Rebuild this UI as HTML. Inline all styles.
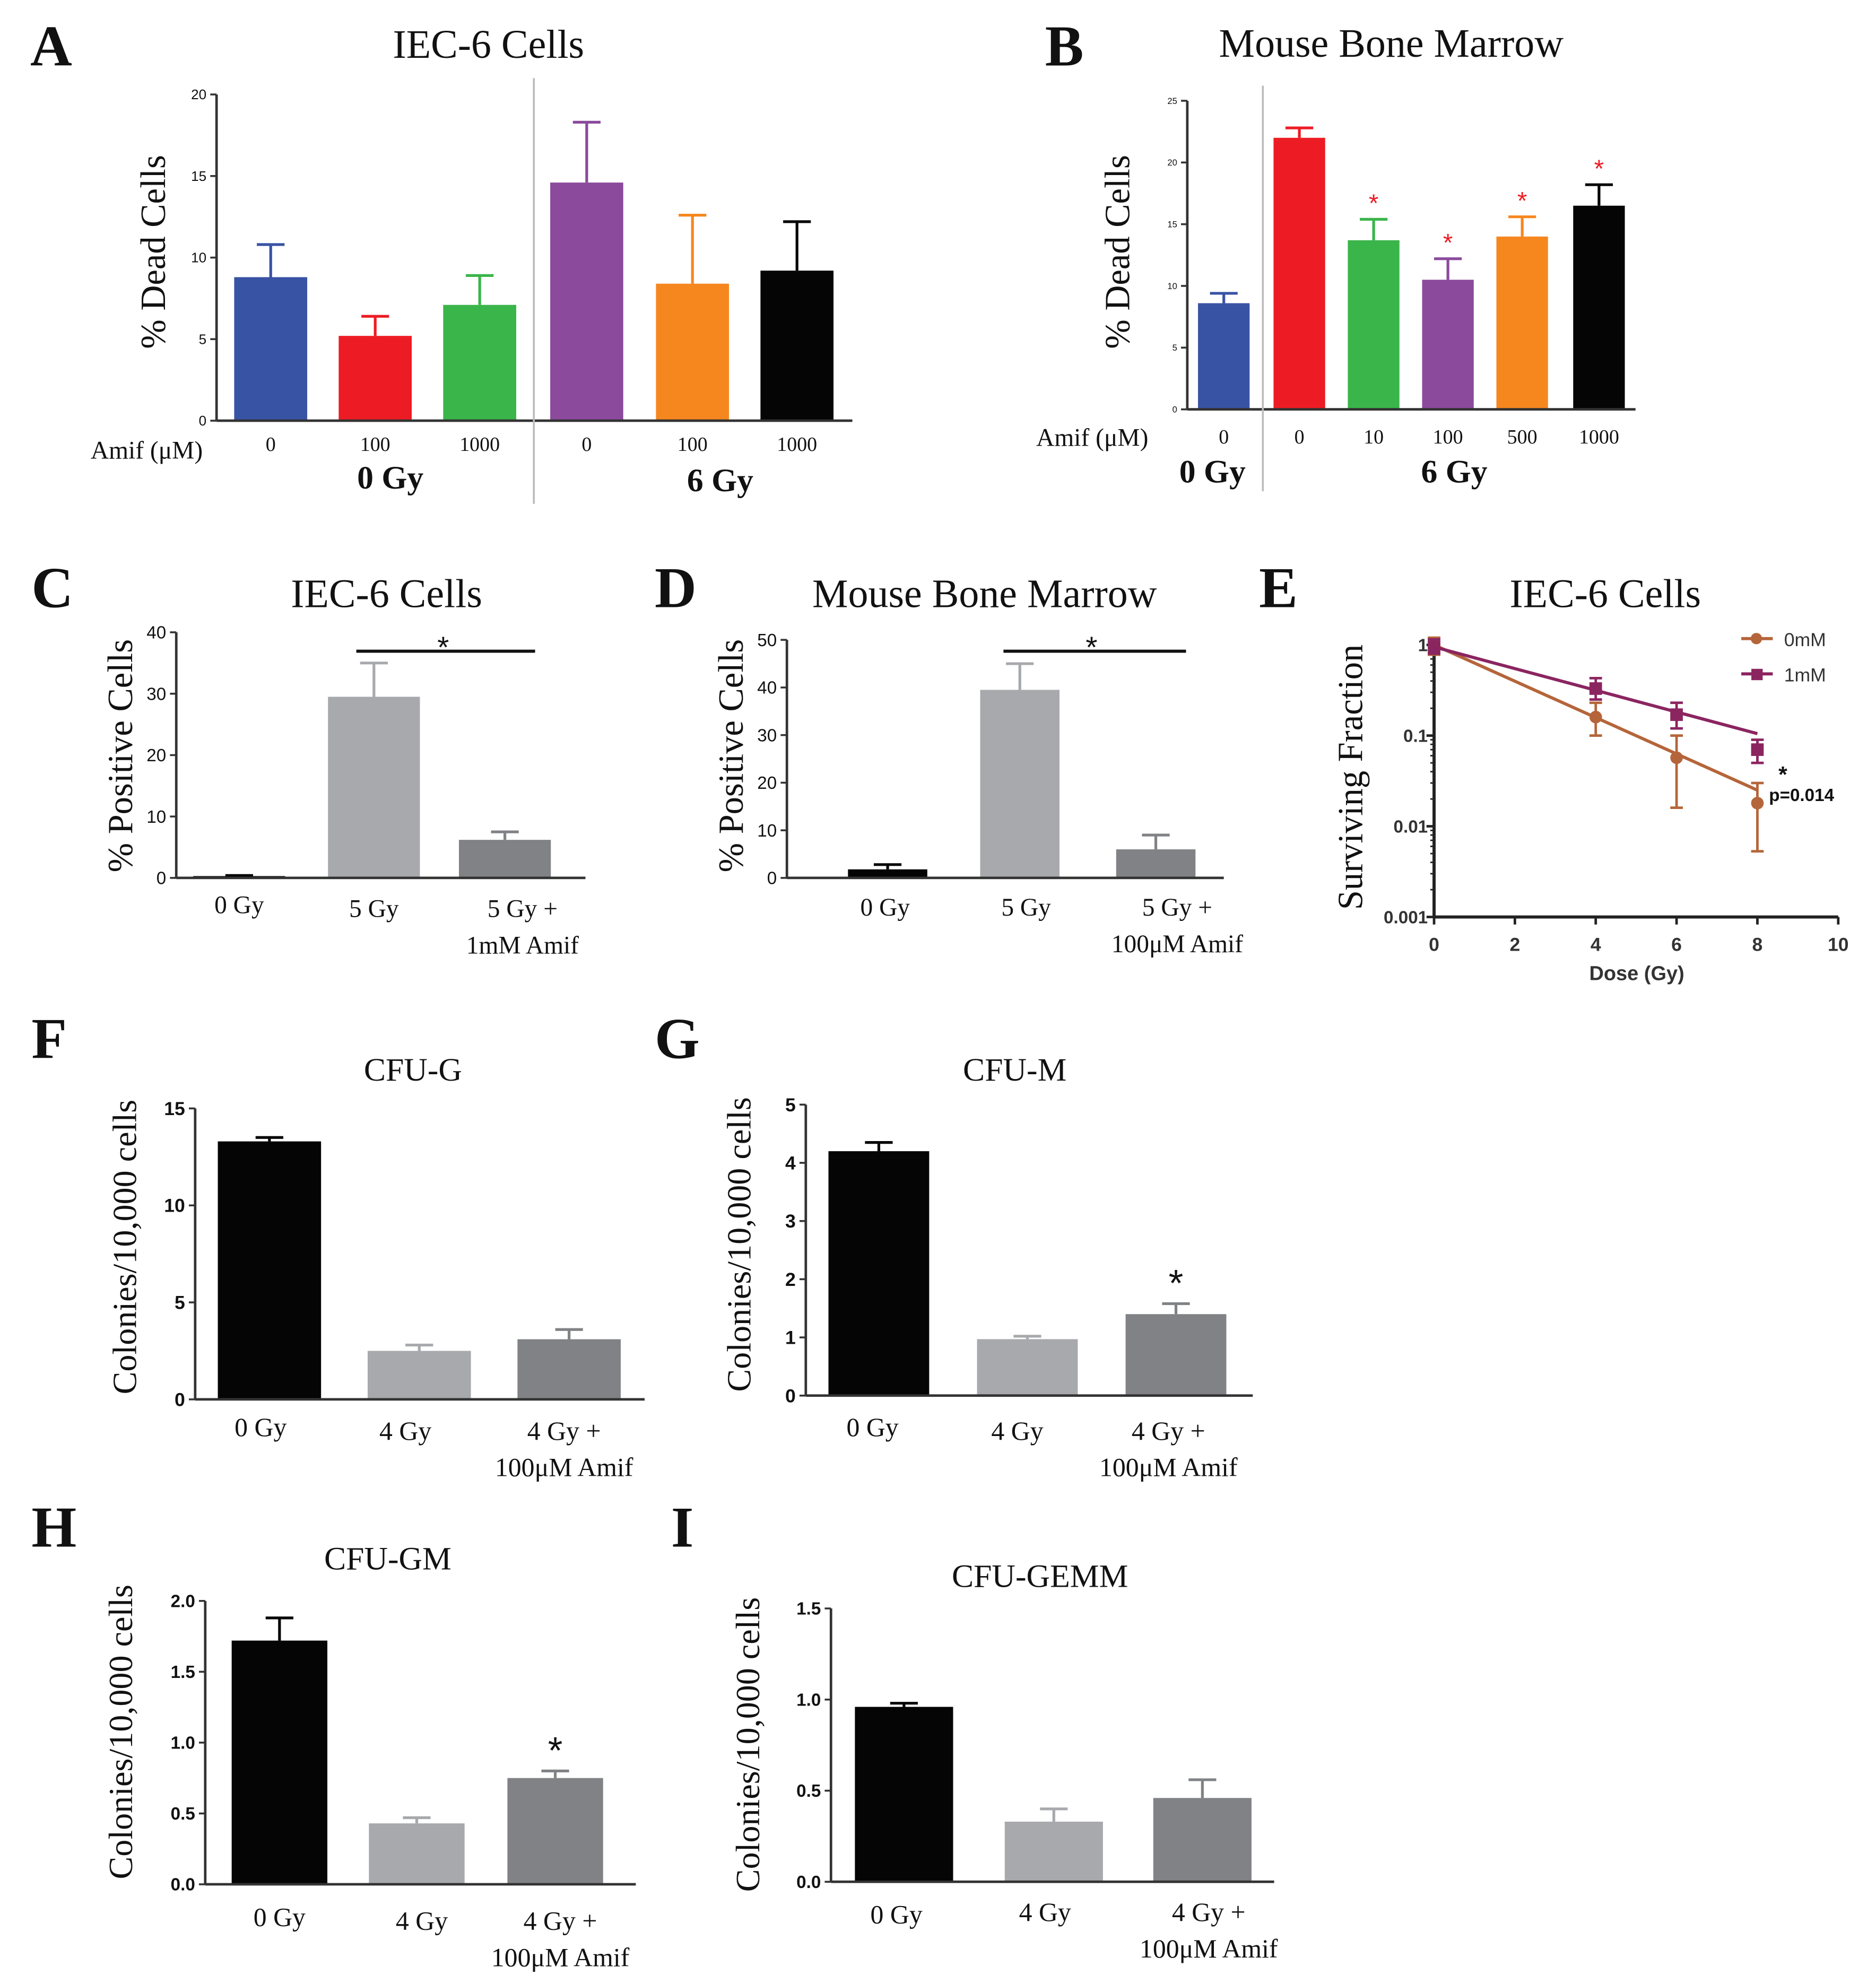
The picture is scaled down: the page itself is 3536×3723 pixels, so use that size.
<!DOCTYPE html>
<html><head><meta charset="utf-8"><style>
html,body{margin:0;padding:0;background:#fff}
svg{display:block}
.serif{font-family:"Liberation Serif",serif}
.sans{font-family:"Liberation Sans",sans-serif}
</style></head><body>
<svg id="fig" xmlns="http://www.w3.org/2000/svg" width="3536" height="3723" viewBox="0 0 1490 1568" preserveAspectRatio="none">
<rect width="1490" height="1568" fill="#fff"/>
</svg>
<script>
// ---- data ----
const aCategories = ["0","100","1000","0","100","1000"];
const aValues = [8.8,5.2,7.1,14.6,8.4,9.2];
const aErrTop = [10.8,6.4,8.9,18.3,12.6,12.2];
const aTicks = [0,5,10,15,20];
const bCategories = ["0","0","10","100","500","1000"];
const bValues = [8.6,22.0,13.7,10.5,14.0,16.5];
const bErrTop = [9.4,22.8,15.4,12.2,15.6,18.2];
const bStars = [false,false,true,true,true,true];
const bTicks = [0,5,10,15,20,25];
const cCategories = ["0 Gy","5 Gy","5 Gy +|1mM Amif"];
const cValues = [0.3,29.5,6.2];
const cErrTop = [0.4,35,7.5];
const cTicks = [0,10,20,30,40];
const dCategories = ["0 Gy","5 Gy","5 Gy +|100μM Amif"];
const dValues = [1.8,39.5,6.0];
const dErrTop = [2.8,45,9];
const dTicks = [0,10,20,30,40,50];
const eDose = [0,4,6,8];
const e0Values = [1.0,0.16,0.057,0.018];
const e0Lo = [0.78,0.10,0.016,0.0053];
const e0Hi = [1.2,0.23,0.10,0.030];
const e0FitEnd = 0.025;
const e1Values = [0.95,0.33,0.17,0.07];
const e1Lo = [0.8,0.25,0.12,0.05];
const e1Hi = [1.15,0.43,0.23,0.09];
const e1FitEnd = 0.105;
const eXTicks = [0,2,4,6,8,10];
const eYTicks = [0.001,0.01,0.1,1];
const eYTickLabels = ["0.001","0.01","0.1","1"];
const fCategories = ["0 Gy","4 Gy","4 Gy +|100μM Amif"];
const fValues = [13.3,2.5,3.1];
const fErrTop = [13.5,2.8,3.6];
const fTicks = [0,5,10,15];
const gValues = [4.2,0.97,1.4];
const gErrTop = [4.35,1.02,1.58];
const gTicks = [0,1,2,3,4,5];
const hValues = [1.72,0.43,0.75];
const hErrTop = [1.88,0.47,0.80];
const hTicks = [0,0.5,1.0,1.5,2.0];
const hTickLabels = ["0.0","0.5","1.0","1.5","2.0"];
const iValues = [0.96,0.33,0.46];
const iErrTop = [0.98,0.40,0.56];
const iTicks = [0,0.5,1.0,1.5];
const iTickLabels = ["0.0","0.5","1.0","1.5"];

const NS="http://www.w3.org/2000/svg";
const svg=document.getElementById('fig');
function mk(tag,attrs,parent,text){
  const e=document.createElementNS(NS,tag);
  for(const k in attrs)e.setAttribute(k,attrs[k]);
  if(text!==undefined)e.textContent=text;
  (parent||svg).appendChild(e);return e;
}
function txt(x,y,s,size,opts,parent,name){
  opts=opts||{};
  const t=mk('text',{x:x,y:y,'font-size':size,'text-anchor':opts.anchor||'middle','class':opts.cls||'serif','font-weight':opts.bold?'bold':'normal',fill:opts.fill||'#111'},parent,s);
  if(opts.rot)t.setAttribute('transform','rotate(-90 '+x+' '+y+')');
  
  
  return t;
}
function line(x1,y1,x2,y2,stroke,w,parent){return mk('line',{x1:x1,y1:y1,x2:x2,y2:y2,stroke:stroke||'#222','stroke-width':w||2},parent);}

function barPanel(cfg){
  const g=mk('g',{});
  
  
  const vmax=cfg.ticks[cfg.ticks.length-1];
  const ys=v=>cfg.y0-(v/vmax)*(cfg.y0-cfg.yTop);
  cfg.values.forEach((v,i)=>{
    const cx=cfg.xs[i], w=cfg.bw, col=cfg.colors[i];
    const yt=ys(cfg.err[i]);
    const el=line(cx,ys(v),cx,yt,col,2.2,g);
    
    
    const cap=line(cx-11,yt,cx+11,yt,col,2.2,g);
    
    
    const r=mk('rect',{x:cx-w/2,y:ys(v),width:w,height:cfg.y0-ys(v),fill:col},g);
    
    
    if(cfg.stars&&cfg.stars[i]) txt(cx,yt-6,'*',cfg.starSize||22,{cls:'sans',fill:cfg.starColor||'#111'},g,'significance-star');
  });
  const ya=line(cfg.x0,cfg.y0,cfg.x0,cfg.yTop,'#333',2,g);
  
  
  const xa=line(cfg.x0,cfg.y0,cfg.xEnd,cfg.y0,'#333',2,g);
  
  
  cfg.ticks.forEach((t,i)=>{
    const y=ys(t);
    line(cfg.x0-5,y,cfg.x0,y,'#333',1.5,g);
    txt(cfg.x0-8,y+cfg.tickSize*0.35,cfg.tickLabels?cfg.tickLabels[i]:String(t),cfg.tickSize,{anchor:'end',cls:'sans',bold:cfg.tickBold},g,'y-tick-label');
  });
  if(cfg.cats) cfg.cats.forEach((c,i)=>{
    const parts=c.split('|');
    parts.forEach((p,j)=>txt(cfg.catX?cfg.catX[i]:cfg.xs[i],cfg.catY+(i>0&&cfg.catDy?cfg.catDy:0)+j*29,p,cfg.catSize,{},g,'x-tick-label'));
  });
  if(cfg.ylabel) txt(cfg.ylx,cfg.yly,cfg.ylabel,cfg.ylSize||28,{rot:true},g,'y-axis-title');
  if(cfg.title) txt(cfg.tx,cfg.ty,cfg.title,cfg.tSize||30,{},g,'chart-title');
  txt(cfg.lx,cfg.ly,cfg.letter,46,{bold:true,anchor:'start'},g,'panel-letter');
  return {g,ys};
}
const BLUE='#3953a4',RED='#ed1c24',GREEN='#3ab54a',PURP='#8b4a9c',ORNG='#f6871f',BLK='#050505';
const LG='#a7a9ac',DG='#808285';

// A
barPanel({name:'panel-a',letter:'A',lx:24,ly:52,title:'IEC-6 Cells',tx:388,ty:46,tSize:32,
 x0:172,y0:334,yTop:75,xEnd:677,ticks:aTicks,tickSize:11,values:aValues,err:aErrTop,
 xs:[215,298,381,466,550,633],bw:58,colors:[BLUE,RED,GREEN,PURP,ORNG,BLK],
 cats:aCategories,catY:358,catSize:16,ylabel:'% Dead Cells',ylx:131,yly:200,ylSize:28});
line(424,62,424,400,'#bbb',1.5);
txt(72,364,'Amif (μM)',20,{anchor:'start'},null,'x-axis-title');
txt(310,388,'0 Gy',26,{bold:true},null,'group-label-0gy');
txt(572,390,'6 Gy',26,{bold:true},null,'group-label-6gy');

// B
barPanel({name:'panel-b',letter:'B',lx:830,ly:52,title:'Mouse Bone Marrow',tx:1105,ty:45,tSize:32,
 x0:943,y0:325,yTop:80,xEnd:1299,ticks:bTicks,tickSize:7,values:bValues,err:bErrTop,
 xs:[972,1032,1091,1150,1209,1270],bw:41,colors:[BLUE,RED,GREEN,PURP,ORNG,BLK],
 stars:bStars,starColor:RED,starSize:20,
 cats:bCategories,catY:352,catSize:16,ylabel:'% Dead Cells',ylx:897,yly:200,ylSize:28});
line(1003,68,1003,390,'#bbb',1.5);
txt(823,354,'Amif (μM)',20,{anchor:'start'},null,'x-axis-title');
txt(963,383,'0 Gy',26,{bold:true},null,'group-label-0gy');
txt(1155,383,'6 Gy',26,{bold:true},null,'group-label-6gy');

// C
barPanel({name:'panel-c',letter:'C',lx:25,ly:482,title:'IEC-6 Cells',tx:307,ty:482,tSize:32,
 x0:140,y0:697,yTop:502,xEnd:465,ticks:cTicks,tickSize:14,values:cValues,err:cErrTop,
 xs:[190,297,401],bw:73,colors:[BLK,LG,DG],
 cats:cCategories,catX:[190,297,415],catY:725,catDy:3,catSize:20,ylabel:'% Positive Cells',ylx:105,yly:600,ylSize:28});
line(283,517,425,517,'#111',2.5);
txt(352,522,'*',24,{cls:'sans'},null,'significance-star');

// D
barPanel({name:'panel-d',letter:'D',lx:520,ly:482,title:'Mouse Bone Marrow',tx:782,ty:482,tSize:32,
 x0:625,y0:697,yTop:508,xEnd:972,ticks:dTicks,tickSize:14,values:dValues,err:dErrTop,
 xs:[705,810,918],bw:63,colors:[BLK,LG,DG],
 cats:dCategories,catX:[703,815,935],catY:727,catDy:0,catSize:20,ylabel:'% Positive Cells',ylx:590,yly:600,ylSize:28});
line(797,517,942,517,'#111',2.5);
txt(867,522,'*',24,{cls:'sans'},null,'significance-star');

// E
(function(){
  const g=mk('g',{});
  
  
  const x0=1139,x1=1460,y0=728,yT=512;
  const xs=d=>x0+d/10*(x1-x0);
  const ys=v=>y0-(Math.log10(v)+3)/3*(y0-yT);
  const ya=line(x0,y0,x0,yT-6,'#222',2.5,g);
  
  
  const xa=line(x0,y0,x1,y0,'#222',2.5,g);
  
  
  eXTicks.forEach(t=>{line(xs(t),y0,xs(t),y0+6,'#222',2,g);txt(xs(t),y0+27,String(t),15,{cls:'sans',bold:true,fill:'#333'},g,'x-tick-label');});
  eYTicks.forEach((t,i)=>{line(x0-6,ys(t),x0,ys(t),'#222',2,g);txt(x0-5,ys(t)+5,eYTickLabels[i],14,{anchor:'end',cls:'sans',bold:true,fill:'#333'},g,'y-tick-label');});
  for(let dec=-3;dec<0;dec++)for(let m=2;m<10;m++){const y=ys(m*Math.pow(10,dec));line(x0-3,y,x0,y,'#222',1.2,g);}
  function series(vals,lo,hi,fitEnd,col,shape,name){
    const sg=mk('g',{},g);
    
    
    const fl=line(xs(eDose[0]),ys(vals[0]),xs(eDose[eDose.length-1]),ys(fitEnd),col,2.5,sg);
    
    
    eDose.forEach((d,i)=>{
      const x=xs(d);
      line(x,ys(lo[i]),x,ys(hi[i]),col,2,sg);
      line(x-5,ys(lo[i]),x+5,ys(lo[i]),col,2,sg);
      line(x-5,ys(hi[i]),x+5,ys(hi[i]),col,2,sg);
      const p=shape==='c'?mk('circle',{cx:x,cy:ys(vals[i]),r:5,fill:col},sg):mk('rect',{x:x-5,y:ys(vals[i])-5,width:10,height:10,fill:col},sg);
      
      
    });
  }
  series(e0Values,e0Lo,e0Hi,e0FitEnd,'#b5653a','c','series-0mm');
  series(e1Values,e1Lo,e1Hi,e1FitEnd,'#8b2560','s','series-1mm');
  line(1383,507,1408,507,'#b5653a',2.5,g);mk('circle',{cx:1395,cy:507,r:4.5,fill:'#b5653a'},g);
  txt(1417,513,'0mM',15,{anchor:'start',cls:'sans',fill:'#333'},g,'legend-entry-0mm');
  line(1383,535,1408,535,'#8b2560',2.5,g);mk('rect',{x:1391,y:531,width:9,height:9,fill:'#8b2560'},g);
  txt(1417,541,'1mM',15,{anchor:'start',cls:'sans',fill:'#333'},g,'legend-entry-1mm');
  txt(1416,621,'*',18,{cls:'sans',bold:true},g,'significance-star');
  txt(1405,636,'p=0.014',14,{anchor:'start',cls:'sans',bold:true},g,'p-value-label');
  txt(1300,778,'Dose (Gy)',16,{cls:'sans',bold:true,fill:'#333'},g,'x-axis-title');
  txt(1082,617,'Surviving Fraction',28,{rot:true},g,'y-axis-title');
  txt(1275,482,'IEC-6 Cells',32,{},g,'chart-title');
  txt(1000,482,'E',46,{bold:true,anchor:'start'},g,'panel-letter');
})();

// F
barPanel({name:'panel-f',letter:'F',lx:25,ly:840,title:'CFU-G',tx:328,ty:858,tSize:26,
 x0:155,y0:1111,yTop:880,xEnd:512,ticks:fTicks,tickSize:15,tickBold:true,values:fValues,err:fErrTop,
 xs:[214,333,452],bw:82,colors:[BLK,LG,DG],
 cats:fCategories,catX:[207,322,448],catY:1140,catDy:3,catSize:21,ylabel:'Colonies/10,000 cells',ylx:108,yly:990,ylSize:27});

// G
barPanel({name:'panel-g',letter:'G',lx:520,ly:840,title:'CFU-M',tx:806,ty:858,tSize:26,
 x0:640,y0:1108,yTop:877,xEnd:995,ticks:gTicks,tickSize:15,tickBold:true,values:gValues,err:gErrTop,
 xs:[698,816,934],bw:80,colors:[BLK,LG,DG],stars:[false,false,true],starSize:30,
 cats:fCategories,catX:[693,808,928],catY:1140,catDy:3,catSize:21,ylabel:'Colonies/10,000 cells',ylx:596,yly:988,ylSize:27});

// H
barPanel({name:'panel-h',letter:'H',lx:25,ly:1228,title:'CFU-GM',tx:308,ty:1246,tSize:26,
 x0:163,y0:1496,yTop:1271,xEnd:505,ticks:hTicks,tickLabels:hTickLabels,tickSize:14,tickBold:true,values:hValues,err:hErrTop,
 xs:[222,331,441],bw:76,colors:[BLK,LG,DG],stars:[false,false,true],starSize:30,
 cats:fCategories,catX:[222,335,445],catY:1529,catDy:3,catSize:21,ylabel:'Colonies/10,000 cells',ylx:105,yly:1375,ylSize:27});

// I
barPanel({name:'panel-i',letter:'I',lx:533,ly:1228,title:'CFU-GEMM',tx:826,ty:1260,tSize:26,
 x0:660,y0:1494,yTop:1277,xEnd:1012,ticks:iTicks,tickLabels:iTickLabels,tickSize:14,tickBold:true,values:iValues,err:iErrTop,
 xs:[718,837,955],bw:78,colors:[BLK,LG,DG],
 cats:fCategories,catX:[712,830,960],catY:1527,catDy:-2,catSize:21,ylabel:'Colonies/10,000 cells',ylx:603,yly:1385,ylSize:27});
</script>
</body></html>
